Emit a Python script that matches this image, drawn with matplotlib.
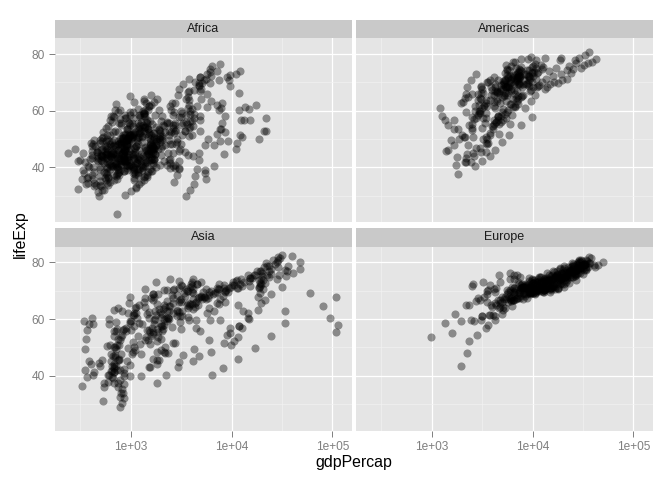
import matplotlib
matplotlib.use("Agg")
import matplotlib.pyplot as plt
import numpy as np

plt.rcParams['font.family'] = ['Liberation Sans', 'DejaVu Sans']

# ---------------- data (gdpPercap, lifeExp), 12 observations per country ----------------
africa_gdp = [
 2449,3014,2551,3247,4183,4910,5745,5681,5023,4797,5288,6223,
 3521,3828,4269,5523,5473,3009,2757,2430,2628,2277,2773,4797,
 1063,960,949,1036,1086,1029,1278,1226,1191,1233,1373,1441,
 851,918,984,1215,2264,3215,4551,6206,7954,8647,11004,12570,
 543,617,723,795,855,743,807,912,932,946,1038,1217,
 339,380,355,413,464,556,560,622,632,463,446,430,
 1173,1313,1400,1508,1684,1783,2368,2603,1793,1694,1934,2042,
 1071,1191,1193,1137,1070,1110,957,845,748,741,738,706,
 1179,1308,1390,1197,1104,1134,798,952,1058,1005,1156,1704,
 1103,1211,1407,1876,1938,1173,1267,1316,1246,1174,1076,986,
 781,906,896,862,905,796,674,672,458,312,241,278,
 2126,2315,2465,2678,3213,3259,4880,4201,4016,3484,3484,3633,
 1389,1501,1729,2052,2378,2518,2603,2157,1648,1786,1649,1545,
 2670,2865,3021,3020,3694,3082,2880,2880,2377,1896,1908,2082,
 1419,1459,1693,1815,2024,2785,3504,3885,3795,4269,4755,5581,
 376,426,582,915,673,958,927,966,1132,2814,7703,12154,
 329,344,381,468,514,505,524,521,582,913,765,641,
 362,379,420,516,566,556,577,573,421,516,530,691,
 4293,5487,6757,8358,11402,21746,15113,11864,13522,14723,12522,13206,
 485,521,599,735,756,884,836,612,665,654,661,753,
 911,1044,1015,1178,1004,886,927,954,1058,1246,1219,1328,
 510,576,687,708,742,974,860,840,794,870,945,943,
 300,432,428,562,599,684,755,612,746,797,576,580,
 854,944,897,1057,1222,1268,1348,1361,1341,1360,1288,1463,
 299,336,411,498,496,745,797,774,977,1187,1275,1569,
 575,620,634,713,803,641,573,506,636,610,531,415,
 2388,3448,6757,18773,21011,21951,17364,11770,9640,9467,9535,12057,
 1443,1589,1644,1634,1749,1545,1303,1155,1041,986,895,1045,
 369,416,428,495,584,663,633,636,563,692,665,759,
 452,490,497,545,581,686,618,684,739,790,952,1042,
 744,846,1055,1422,1586,1497,1481,1422,1361,1483,1579,1803,
 1968,2034,2530,2475,2575,3711,3688,4783,6058,7426,9021,10957,
 1688,1643,1566,1712,1930,2371,2703,2755,2949,2982,3258,3820,
 469,495,556,566,724,502,462,390,410,473,634,824,
 2424,2622,3174,3793,3747,3876,4191,3694,3804,3899,4072,4811,
 762,860,1072,1054,954,808,909,668,582,580,601,620,
 1077,1101,1151,1015,1698,1982,1577,1385,1620,1625,1615,2014,
 2719,2769,3173,4021,4998,4906,5102,4882,6101,6071,6316,7670,
 493,540,597,511,591,670,882,848,737,590,786,863,
 880,861,1072,1385,1533,1738,1890,1517,1429,1339,1353,1598,
 1451,1568,1655,1598,1488,1562,1519,1442,1368,1393,1519,1712,
 879,1004,1117,1207,1354,1349,1466,1295,1069,575,699,863,
 1136,1258,1369,1285,1254,1450,1177,1094,927,930,883,926,
 4725,5487,5769,7114,7766,8029,8568,7826,7226,7480,7711,9270,
 1616,1770,1960,1687,1660,2202,1896,1508,1493,1633,1993,2602,
 1148,1244,1597,1711,2052,2203,2299,2983,3553,3877,4128,4513,
 717,698,722,849,915,963,875,832,826,789,899,1107,
 859,925,1068,1477,1649,1533,1344,1203,1034,982,886,883,
 1469,1396,1660,1932,2753,3121,3560,3811,4333,4876,5723,7093,
 735,775,768,908,950,844,683,618,644,817,927,1056,
 1147,1312,1453,1777,1773,1589,1409,1213,1211,1071,1072,1271,
 407,519,527,570,799,686,788,706,693,792,672,470]
africa_life = [
 43.1,45.7,48.3,51.4,54.5,58.0,61.4,65.8,67.7,69.2,71.0,72.3,
 30.0,32.0,34.0,36.0,37.9,39.5,39.9,39.9,40.6,41.0,41.0,42.7,
 38.2,40.4,42.6,44.9,47.0,49.2,50.9,52.3,53.9,54.8,54.4,56.7,
 47.6,49.6,51.5,53.3,56.0,59.3,61.5,63.6,62.7,52.6,46.6,50.7,
 32.0,34.9,37.8,40.7,43.6,46.1,48.1,49.6,50.3,50.3,50.7,52.3,
 39.0,40.5,42.0,43.5,44.1,45.9,47.5,48.2,44.7,45.3,47.4,49.6,
 38.5,40.4,42.6,44.8,47.0,49.4,53.0,55.0,54.3,52.2,49.9,50.4,
 35.5,37.5,39.5,41.5,43.5,46.8,48.3,50.5,49.4,46.1,43.3,44.7,
 38.1,39.9,41.7,43.6,45.6,47.4,49.5,51.1,51.7,51.6,50.5,50.7,
 40.7,42.5,44.5,46.5,48.9,50.9,52.9,54.9,57.9,60.7,63.0,65.2,
 39.1,40.7,42.1,44.1,45.9,47.8,47.8,47.4,45.5,42.6,45.0,46.5,
 42.1,45.1,48.4,52.0,54.9,55.6,56.7,57.5,56.4,53.0,53.0,55.3,
 40.5,42.5,44.9,47.4,49.8,52.4,54.0,54.7,52.0,48.0,46.8,48.3,
 34.8,37.3,39.7,42.1,44.4,46.5,48.8,50.0,51.6,53.2,53.4,54.8,
 41.9,44.4,47.0,49.3,51.1,53.3,56.0,59.8,63.7,67.2,69.8,71.3,
 34.5,36.0,37.5,39.0,40.5,42.0,43.7,45.7,47.5,48.2,49.3,51.6,
 35.9,38.0,40.2,42.2,44.1,44.5,43.9,46.5,50.0,53.4,55.6,58.0,
 34.1,36.7,40.1,42.1,43.5,44.5,44.9,46.7,48.1,49.4,50.7,52.9,
 37.0,39.0,40.5,44.6,48.7,52.8,56.6,60.2,61.4,60.5,56.8,56.7,
 30.0,32.1,33.9,35.9,38.3,41.8,45.6,49.3,52.6,55.9,58.0,59.4,
 43.1,44.8,46.5,48.1,49.9,51.8,53.7,55.7,57.5,58.6,58.5,60.0,
 33.6,34.6,35.6,36.9,38.0,40.8,42.9,45.2,48.6,51.5,53.7,56.0,
 32.5,33.5,34.5,35.5,36.5,37.5,39.3,41.2,43.3,44.9,45.5,46.4,
 42.3,44.7,47.9,50.7,53.6,56.2,58.8,59.3,59.3,54.4,51.0,54.1,
 42.1,45.0,47.7,48.5,49.8,52.5,55.1,57.2,59.7,55.6,44.6,42.6,
 38.5,39.5,40.5,41.5,42.6,43.8,44.9,46.0,40.8,42.2,43.8,45.7,
 42.7,45.3,47.8,50.2,52.8,57.4,62.2,66.2,68.8,70.9,72.7,74.0,
 36.7,38.9,40.8,42.9,44.9,46.9,48.9,49.4,52.2,55.0,57.3,59.4,
 36.3,37.2,38.4,39.5,41.8,43.8,45.6,47.5,49.4,47.5,45.0,48.3,
 33.7,35.3,36.9,38.5,40.0,41.7,43.9,46.4,48.4,49.9,51.8,54.5,
 40.5,42.3,44.2,46.3,48.4,50.9,53.6,56.1,58.3,60.4,62.2,64.2,
 51.0,58.1,60.2,61.6,62.9,64.9,66.7,68.7,69.7,70.7,72.0,72.8,
 42.9,45.4,47.9,50.3,52.9,55.7,59.6,62.7,65.4,67.7,69.6,71.2,
 31.3,33.8,36.2,38.1,40.3,42.5,42.8,42.9,44.3,46.3,44.0,42.1,
 41.7,45.2,48.4,51.2,53.9,56.4,59.0,60.8,62.0,58.9,51.5,52.9,
 37.4,38.6,39.5,40.1,40.5,41.3,42.6,44.6,47.4,51.3,54.5,56.9,
 36.3,37.8,39.4,41.0,42.8,44.5,45.8,46.9,47.5,47.5,46.6,46.9,
 52.7,55.1,57.7,60.5,64.3,67.1,69.9,71.9,73.6,74.8,75.7,76.4,
 40.0,41.5,43.0,44.1,44.6,45.0,46.2,44.0,23.6,36.1,43.4,46.2,
 46.5,48.9,51.9,54.4,56.5,58.6,60.4,61.7,62.7,63.3,64.3,65.5,
 37.3,39.3,41.5,43.6,45.8,48.9,52.4,55.8,58.2,60.2,61.6,63.1,
 30.3,31.6,32.8,34.1,35.4,36.8,38.4,40.0,38.3,39.9,41.0,42.6,
 33.0,35.0,37.0,39.0,41.0,42.0,43.0,44.5,39.7,43.8,45.9,48.2,
 45.0,48.0,50.0,51.9,53.7,55.5,58.2,60.8,61.9,60.2,53.4,49.3,
 38.6,40.0,40.9,42.9,45.1,47.8,50.3,51.7,53.6,55.4,56.4,58.6,
 41.4,43.4,45.0,46.6,49.6,52.5,55.6,57.7,58.5,54.3,43.9,39.6,
 41.2,43.0,44.2,45.8,47.6,49.9,50.6,51.5,50.4,48.5,49.7,52.5,
 38.6,40.8,43.0,45.2,47.5,50.1,52.9,54.7,55.6,58.4,57.6,58.4,
 44.6,47.1,49.6,52.1,55.6,59.8,64.0,66.9,70.0,72.0,73.0,73.9,
 40.0,42.6,45.3,48.1,51.0,50.4,49.8,51.5,48.8,44.6,47.8,51.5,
 42.0,44.1,46.0,47.8,50.1,51.4,51.8,50.8,46.1,40.2,39.2,42.4,
 48.5,50.5,52.4,54.0,55.6,57.7,60.4,62.4,60.4,46.8,40.0,43.5]

americas_gdp = [
 5911,6857,7133,8053,9443,10079,8998,9140,9308,10967,8798,12779,
 2677,2128,2181,2587,2980,3548,3157,2754,2962,3326,3413,3822,
 2109,2487,3337,3430,4986,6660,7031,7807,6950,7958,8131,9066,
 11367,12490,13462,16077,18971,22091,22899,26627,26343,28955,33329,36319,
 3940,4316,4519,5107,5494,4757,5096,5547,7596,10118,10779,13172,
 2144,2324,2492,2679,3265,3816,4398,4903,5445,6117,5755,7007,
 2627,2990,3461,4161,5118,5927,5263,5630,6160,6677,7723,9645,
 5587,6092,5181,5690,5306,6381,7317,7532,5593,5431,6341,8948,
 1398,1544,1662,1654,2190,2681,2862,2899,3045,3614,4564,6025,
 3522,3781,4086,4579,5280,6680,7213,6482,7104,7429,5773,6873,
 3048,3422,3777,4359,4520,5139,4098,4140,4444,5154,5352,5728,
 2428,2617,2750,3243,4031,4880,4821,4247,4439,4684,4858,5186,
 1840,1726,1797,1452,1654,1875,2012,1823,1457,1342,1270,1202,
 2195,2220,2292,2539,2529,3203,3121,3023,3082,3160,3099,3548,
 2899,4757,5246,6125,7434,6650,6068,6351,7405,7122,6994,7321,
 3478,4132,4582,5755,7110,7675,9611,8688,9472,9767,10742,11978,
 3112,3458,3634,4643,4689,5486,3470,2955,2171,2253,2474,2749,
 2480,2961,3536,4421,5365,5352,7009,7034,6619,7114,7357,9809,
 1952,2046,2148,2299,2523,3248,4259,3998,4196,4247,3784,4173,
 3759,4245,4957,5788,5938,6281,6435,6361,4446,5838,5909,7409,
 3082,3907,5108,6930,9124,9770,10331,12281,14642,16999,18856,19329,
 3023,4100,4997,5621,6619,7899,9119,7388,7370,8793,11461,18009,
 13990,14847,16173,19530,21806,24073,25010,29884,32004,35767,39097,42952,
 5717,6151,5603,5445,5704,6504,6920,7452,8137,9231,7727,10611,
 7690,9803,8423,9541,10505,13144,11152,9883,10733,10165,8605,11416]
americas_life = [
 62.5,64.4,65.1,65.6,67.1,68.5,69.9,70.8,71.9,73.3,74.3,75.3,
 40.4,41.9,43.4,45.0,46.7,50.0,53.9,57.3,60.0,62.1,63.9,65.6,
 50.9,53.3,55.7,57.6,59.5,61.5,63.3,65.2,67.1,69.4,71.0,72.4,
 68.8,70.0,71.3,72.1,72.9,74.2,75.8,76.9,78.0,78.6,79.8,80.7,
 54.7,56.1,57.9,60.5,63.4,67.1,70.6,72.5,74.1,75.8,77.9,78.6,
 50.6,55.1,57.9,60.0,61.6,63.8,66.7,67.8,68.4,70.3,71.7,72.9,
 57.2,60.0,62.8,65.4,67.8,70.8,73.4,74.8,75.7,77.3,78.1,78.8,
 59.4,62.3,65.2,68.3,70.7,72.6,73.7,74.2,74.4,76.2,77.2,78.3,
 45.9,49.8,53.5,56.8,59.6,61.8,63.7,66.0,68.5,70.0,70.8,72.2,
 48.4,51.4,54.6,56.7,58.8,61.3,64.3,67.2,69.6,72.3,74.2,75.0,
 45.3,48.6,52.3,55.9,58.2,56.7,56.6,63.2,66.8,69.5,70.7,71.9,
 42.0,44.1,47.0,50.0,53.7,56.0,58.1,60.8,63.4,66.3,69.0,70.3,
 37.6,40.7,43.6,46.2,48.0,49.9,51.5,53.6,55.1,56.7,58.1,60.9,
 41.9,44.7,48.0,50.9,53.9,57.4,60.9,64.5,66.4,67.7,68.6,70.2,
 58.5,62.6,65.6,67.5,69.0,70.1,71.2,71.8,71.8,72.3,72.0,72.6,
 50.8,55.2,58.3,60.1,62.4,65.0,67.4,69.5,71.5,73.7,74.9,76.2,
 42.3,45.4,48.6,51.9,55.2,57.5,59.3,62.0,65.8,68.4,70.8,72.9,
 55.2,59.2,61.8,64.1,66.2,68.7,70.5,71.5,72.5,73.7,74.7,75.5,
 62.6,63.2,64.4,65.0,65.8,66.4,66.9,67.4,68.2,69.4,70.8,71.8,
 43.9,46.3,49.1,51.4,55.4,58.4,61.4,64.1,66.5,68.4,69.9,71.4,
 64.3,68.5,69.6,71.1,72.2,73.4,73.8,74.6,73.9,74.9,77.8,78.7,
 59.1,61.8,64.9,65.4,65.9,68.3,68.8,69.6,69.9,69.5,69.0,69.8,
 68.4,69.5,70.2,70.8,71.3,73.4,74.7,75.0,76.1,76.8,77.3,78.2,
 66.1,67.0,68.3,68.5,68.7,69.5,70.8,71.9,72.8,74.2,75.3,76.4,
 55.1,57.9,60.8,63.5,65.7,67.5,68.3,70.2,71.2,72.1,72.8,73.7]

asia_gdp = [
 779,821,853,836,740,786,978,852,649,635,727,975,
 9867,11636,12753,14805,18269,19340,19211,18524,19036,20292,23404,29796,
 684,662,686,721,630,660,677,752,837,973,1136,1391,
 368,434,497,523,422,525,625,684,682,734,896,1713,
 400,576,488,613,677,741,962,1379,1656,2289,3119,4959,
 3054,3629,4693,6198,8316,11186,14561,20038,24758,28378,30209,39725,
 547,590,658,701,724,813,856,977,1164,1459,1747,2452,
 750,859,849,763,1111,1383,1517,1748,2383,3119,2874,3541,
 3035,3290,4187,5907,9613,11889,7608,6643,7235,8264,9241,11606,
 4130,6229,8342,8931,9576,14688,14517,11644,3746,3076,4391,4471,
 4087,5386,7105,8394,12787,13307,15367,17123,18051,20897,21905,25523,
 3217,4318,6577,9848,14779,16610,19384,22376,26825,28817,28605,31656,
 1547,1886,2348,2742,2110,2852,4162,4448,3431,3645,3845,4519,
 1088,1571,1622,2144,3702,4106,4107,4106,3726,1691,1647,1593,
 1031,1488,1536,2029,3031,4657,5623,8533,12104,15994,19234,23348,
 108382,113523,95458,80895,109348,59265,31354,28118,34933,40301,35110,47307,
 4835,6090,5716,6006,7486,8660,7641,5377,6890,8755,9314,10461,
 1831,1810,2036,2278,2849,3828,4920,5249,7277,10132,10207,12452,
 786,912,1056,1226,1421,1648,2000,2338,1786,1902,2140,3096,
 331,350,388,349,357,371,424,385,347,415,611,944,
 546,598,652,676,674,695,718,775,898,1011,1057,1091,
 1828,2243,2925,4721,10618,11848,12955,18115,18617,19702,19775,22316,
 685,747,803,942,1050,1176,1443,1705,1972,2049,2093,2606,
 1273,1548,1650,1814,1989,2373,2603,2190,2279,2537,2651,3190,
 6460,8157,11626,16903,24837,34168,33693,21199,24841,20586,19014,21655,
 2315,2843,3675,4977,8597,11210,15169,18862,24769,33519,36023,47143,
 1083,1072,1074,1136,1213,1349,1648,1877,2154,2664,3015,3970,
 1644,2117,2194,1882,2572,3195,3761,3117,3341,4014,4091,4185,
 1207,1508,1823,2644,4062,5597,7426,11055,15216,20207,23235,28718,
 758,793,1002,1296,1524,1962,2393,2982,4617,5853,5913,7458,
 605,676,772,637,700,714,707,821,989,1386,1764,2442,
 1516,1827,2199,2650,3133,3683,4337,5108,6018,7110,4516,3025,
 782,805,826,862,1266,1830,1978,1972,1879,2117,2235,2281]
asia_life = [
 28.8,30.3,32.0,34.0,36.1,38.4,39.9,40.8,41.7,41.8,42.1,43.8,
 50.9,53.8,56.9,59.9,63.3,65.6,69.1,70.8,72.6,73.9,74.8,75.6,
 37.5,39.3,41.2,43.5,45.3,46.9,50.0,52.8,56.0,59.4,62.0,64.1,
 39.4,41.4,43.4,45.4,40.3,31.2,51.0,53.9,55.8,56.5,56.8,59.7,
 44.0,50.5,44.5,58.4,63.1,64.0,65.5,67.3,68.7,70.4,72.0,73.0,
 61.0,64.8,67.7,70.0,72.0,73.6,75.5,76.2,77.6,80.0,81.5,82.2,
 37.4,40.2,43.6,47.2,50.7,54.2,56.6,58.6,60.2,61.8,62.9,64.7,
 37.5,39.9,42.5,46.0,49.2,52.7,56.2,60.1,62.7,66.0,68.6,70.6,
 44.9,47.2,49.3,52.5,55.2,57.7,59.6,63.0,65.7,68.0,69.5,71.0,
 45.3,48.4,51.5,54.5,57.0,60.4,62.0,65.0,59.5,58.8,57.0,59.5,
 65.4,67.8,69.4,70.8,71.6,73.1,74.5,75.6,76.9,78.3,79.7,80.7,
 63.0,65.5,68.7,71.4,73.4,75.4,77.1,78.7,79.4,80.7,82.0,82.6,
 43.2,45.7,48.1,51.6,56.5,61.1,63.7,65.9,68.0,69.8,71.3,72.5,
 50.1,54.1,56.7,59.9,64.0,67.2,69.1,70.6,70.0,67.7,66.7,67.3,
 47.5,52.7,55.3,57.7,62.6,64.8,67.1,69.8,72.2,74.6,77.0,78.6,
 55.6,58.0,60.5,64.6,67.7,69.3,71.3,74.2,75.2,76.2,76.9,77.6,
 55.9,59.5,62.1,63.9,65.4,66.1,67.0,67.9,69.3,70.3,71.0,72.0,
 48.5,52.1,55.7,59.4,63.0,65.3,68.0,69.5,70.7,71.9,73.0,74.2,
 42.2,45.2,48.3,51.3,53.8,55.5,57.5,60.2,61.3,63.6,65.0,66.8,
 36.3,41.9,45.1,49.4,53.1,56.1,58.1,58.3,59.3,60.3,59.9,62.1,
 36.2,37.7,39.4,41.2,44.0,46.7,49.6,52.5,55.7,59.4,61.3,63.8,
 37.6,40.1,43.2,47.0,52.1,57.4,62.7,67.7,71.2,72.5,74.2,75.6,
 43.4,45.6,47.7,49.8,51.9,54.0,56.2,58.2,60.8,61.8,63.6,65.5,
 47.8,51.3,54.8,56.4,58.1,60.1,62.1,64.2,66.5,68.6,70.3,71.7,
 40.4,42.9,45.9,49.9,53.9,58.7,63.0,66.8,69.0,70.5,71.6,72.8,
 60.4,63.2,65.8,67.9,69.5,70.8,71.8,73.6,75.8,77.2,78.8,80.0,
 57.6,61.5,62.2,64.3,65.0,65.9,68.8,69.0,70.4,70.5,70.8,72.4,
 45.9,48.3,50.3,53.7,57.3,61.2,64.6,67.0,69.2,71.5,73.1,74.1,
 58.5,62.4,65.2,67.5,69.4,70.6,72.2,73.4,74.3,75.3,77.0,78.4,
 50.8,53.6,56.1,58.3,60.4,62.5,64.6,66.1,67.3,67.5,68.6,70.6,
 40.4,42.9,45.4,47.8,50.3,55.8,58.8,62.8,67.7,70.7,73.0,74.2,
 43.2,45.7,48.1,51.6,56.5,60.8,64.4,67.0,69.7,71.1,72.4,73.4,
 32.5,34.0,35.2,37.0,39.8,44.2,49.1,52.9,55.6,58.0,60.3,62.7]

europe_gdp = [
 1601,1942,2313,2760,3313,3533,3631,3739,2497,3193,4604,5937,
 6137,8843,10751,12835,16662,19749,21597,23688,27042,29096,32418,36126,
 8343,9715,10991,13149,16672,19118,20980,22526,25576,27561,30486,33693,
 974,1354,1710,2172,2860,3528,4127,4314,2547,4766,6019,7446,
 2444,3009,4255,5578,6597,7612,8225,8239,6303,5970,7697,10681,
 3119,4338,5478,6960,9164,11305,13222,13823,8448,9876,11628,14619,
 6876,8256,10137,11399,13108,14800,15377,16311,14297,16049,17596,22833,
 9692,11100,13583,15937,18866,20423,21689,25116,26407,29804,32167,35278,
 6425,7545,9372,10922,14359,15605,18533,21141,20647,23724,28205,33207,
 7030,8663,10560,13000,16107,18293,20294,22066,24704,25890,28926,30470,
 7144,10188,12902,14746,18016,20513,22032,24639,26505,27789,30036,32170,
 3531,4916,6017,8513,12725,14196,15268,16121,17541,18748,22514,27538,
 5264,6040,7550,9326,10168,11674,12546,12986,10536,11712,14843,18009,
 7268,9244,10350,13320,15798,19655,23270,26923,25144,28061,31163,36181,
 5210,5599,6632,7656,9531,11151,12618,13873,17559,24522,34077,40676,
 4931,6249,8244,10022,12269,14256,16537,19208,22014,24675,27968,28570,
 2648,3682,4650,5907,7779,9595,11222,11733,7003,6466,6558,9254,
 8942,11277,12791,15363,18795,21210,21399,23651,26791,30246,33725,36798,
 10095,11654,13450,16362,18965,23311,26298,31541,33966,41283,44684,49357,
 4029,4734,5339,6557,8007,9508,8452,9082,7739,10160,12002,15390,
 3068,3775,4728,6362,9022,10172,11754,13039,16207,17641,19971,20510,
 3144,3944,4735,6471,8011,9356,9605,9697,6598,7346,7886,10808,
 3581,4981,6290,7991,10523,12980,15181,15871,9325,7914,7236,9787,
 5075,6093,7481,8412,9674,10922,11349,12037,9498,12127,13639,18678,
 4215,5862,7403,9405,12383,15277,17867,18678,14214,17161,20660,25768,
 3834,4565,5694,7994,10639,13236,13926,15765,18603,20445,24835,28821,
 8528,9912,12329,15259,17832,18856,20667,23587,23880,25267,29342,33860,
 14734,17909,20431,22966,27195,26982,28398,30282,31872,32135,34481,37506,
 1969,2219,2323,2826,3451,4269,4241,5089,5678,6601,6508,8458,
 9980,11283,12477,14143,15895,17429,18232,21665,22705,26075,29479,33203]
europe_life = [
 55.2,59.3,64.8,66.2,67.7,68.9,70.4,72.0,71.6,73.0,75.7,76.4,
 66.8,67.5,69.5,70.1,70.6,72.2,73.2,74.9,76.0,77.5,79.0,79.8,
 68.0,69.2,70.3,70.9,71.4,72.8,73.9,75.4,76.5,77.5,78.3,79.4,
 53.8,58.5,61.9,64.8,67.5,69.9,70.7,71.1,72.2,73.2,74.1,74.9,
 59.6,66.6,69.5,70.4,70.9,70.8,71.1,71.3,71.2,70.3,72.1,73.0,
 61.2,64.8,67.1,68.5,69.6,70.6,70.5,71.5,72.5,73.7,74.9,75.7,
 66.9,69.0,69.9,70.4,70.3,70.7,70.9,71.6,72.4,74.0,75.5,76.5,
 70.8,71.8,72.4,73.0,73.5,74.7,74.6,74.8,75.3,76.1,77.2,78.3,
 66.6,67.5,68.8,69.8,70.9,72.5,74.6,74.8,75.7,77.1,78.4,79.3,
 67.4,68.9,70.5,71.6,72.4,73.8,74.9,76.3,77.5,78.6,79.6,80.7,
 67.5,69.1,70.3,70.8,71.0,72.5,73.8,74.8,76.1,77.3,78.7,79.4,
 65.9,67.9,69.5,71.0,72.3,73.7,75.2,76.7,77.0,77.9,78.3,79.5,
 64.0,66.4,68.0,69.5,69.8,70.0,69.4,69.6,69.2,71.0,72.6,73.3,
 72.5,73.5,73.7,73.7,74.5,76.1,77.0,77.2,78.8,79.0,80.5,81.8,
 66.9,68.9,70.3,71.1,71.3,72.0,73.1,74.4,75.5,76.1,77.8,78.9,
 65.9,67.8,69.2,71.1,72.2,73.5,75.0,76.4,77.4,78.8,80.2,80.5,
 59.2,61.4,64.0,67.0,70.1,73.1,74.1,74.9,75.4,75.4,74.0,74.5,
 72.1,73.0,73.2,73.8,73.8,75.2,76.1,76.8,77.4,78.0,78.5,79.8,
 72.7,73.4,73.5,74.1,74.3,75.4,76.0,75.9,77.3,78.3,79.1,80.2,
 61.3,65.8,67.6,69.6,70.9,70.7,71.3,71.0,71.0,72.8,74.7,75.6,
 59.8,61.5,64.4,66.6,69.3,70.4,72.8,74.1,74.9,76.0,77.3,78.1,
 61.1,64.1,66.8,66.8,69.2,69.5,69.7,69.5,69.4,69.7,71.3,72.5,
 58.0,61.7,64.5,66.9,68.7,70.3,70.2,71.2,71.7,72.2,73.2,74.0,
 64.4,67.5,70.3,71.0,70.6,70.5,70.8,71.1,71.4,72.7,73.8,74.7,
 65.6,67.9,69.2,69.2,69.8,71.0,71.1,72.3,73.6,75.1,76.7,77.9,
 64.9,66.7,69.7,71.4,73.1,74.4,76.3,76.9,77.6,78.8,79.8,80.9,
 71.9,72.5,73.4,74.2,74.7,75.4,76.4,77.2,78.2,79.4,80.0,80.9,
 69.6,70.6,71.3,72.8,73.8,75.4,76.2,77.4,78.0,79.4,80.6,81.7,
 43.6,48.1,52.1,54.3,57.0,59.5,61.0,63.1,66.1,68.8,70.8,71.8,
 69.2,70.4,70.8,71.4,72.0,72.8,74.0,75.0,76.4,77.2,78.5,79.4]

continents = ["Africa", "Americas", "Asia", "Europe"]
series = {
    "Africa": (africa_gdp, africa_life),
    "Americas": (americas_gdp, americas_life),
    "Asia": (asia_gdp, asia_life),
    "Europe": (europe_gdp, europe_life),
}
x_major = [1e3, 1e4, 1e5]
x_labels = ["1e+03", "1e+04", "1e+05"]
y_major = [40, 60, 80]
y_minor = [30, 50, 70]

# ---------------- layout ----------------
W, H = 672, 480
fig = plt.figure(figsize=(W / 100, H / 100), dpi=100, facecolor="white")

panel_w = 296.5
col_x = [55, 356]
row_top = [38.3, 246.6]
panel_h = 184.0
strip_h = 18.5

all_gdp = np.concatenate([np.asarray(series[c][0], float) for c in continents])
all_life = np.concatenate([np.asarray(series[c][1], float) for c in continents])
lx = np.log10(all_gdp)
xr = lx.max() - lx.min()
xlim = (10 ** (lx.min() - 0.05 * xr), 10 ** (lx.max() + 0.05 * xr))
yr = all_life.max() - all_life.min()
ylim = (all_life.min() - 0.05 * yr, all_life.max() + 0.05 * yr)
x_minor = [10 ** 2.5, 10 ** 3.5, 10 ** 4.5]

grey50 = "#7F7F7F"
for i, cont in enumerate(continents):
    r, c = divmod(i, 2)
    x0 = col_x[c] / W
    y0 = (H - row_top[r] - panel_h) / H
    ax = fig.add_axes([x0, y0, panel_w / W, panel_h / H])
    ax.set_facecolor("#E5E5E5")
    for s in ax.spines.values():
        s.set_visible(False)
    ax.set_xscale("log")
    ax.set_xlim(*xlim)
    ax.set_ylim(*ylim)
    ax.set_xticks(x_major)
    ax.set_xticks(x_minor, minor=True)
    ax.set_yticks(y_major)
    ax.set_yticks(y_minor, minor=True)
    ax.grid(True, which="major", color="white", linewidth=0.9)
    ax.grid(True, which="minor", color="#F2F2F2", linewidth=0.45)
    ax.set_axisbelow(True)
    ax.tick_params(which="minor", length=0)
    ax.tick_params(which="major", length=4.0, width=0.7, color=grey50,
                   labelcolor=grey50, labelsize=8.6, pad=3.3)
    if r == 1:
        ax.set_xticklabels(x_labels)
    else:
        ax.tick_params(axis="x", which="major", length=0, labelbottom=False)
    if c == 0:
        ax.set_yticklabels([str(v) for v in y_major])
    else:
        ax.tick_params(axis="y", which="major", length=0, labelleft=False)
    gdp, life = series[cont]
    ax.scatter(gdp, life, s=34, c="black", alpha=0.4, linewidths=0, zorder=3)

    sax = fig.add_axes([x0, (H - row_top[r]) / H, panel_w / W, strip_h / H])
    sax.set_facecolor("#C9C9C9")
    sax.set_xticks([]); sax.set_yticks([])
    for s in sax.spines.values():
        s.set_visible(False)
    sax.text(0.5, 0.5, cont, ha="center", va="center", fontsize=9.0,
             color="#1A1A1A", transform=sax.transAxes)

fig.text(354 / W, 1 - 463 / H, "gdpPercap", ha="center", va="center", fontsize=11.4)
fig.text(20 / W, 1 - 234 / H, "lifeExp", ha="center", va="center", fontsize=11.4,
         rotation=90)

fig.savefig("out.png", dpi=100, facecolor="white")
